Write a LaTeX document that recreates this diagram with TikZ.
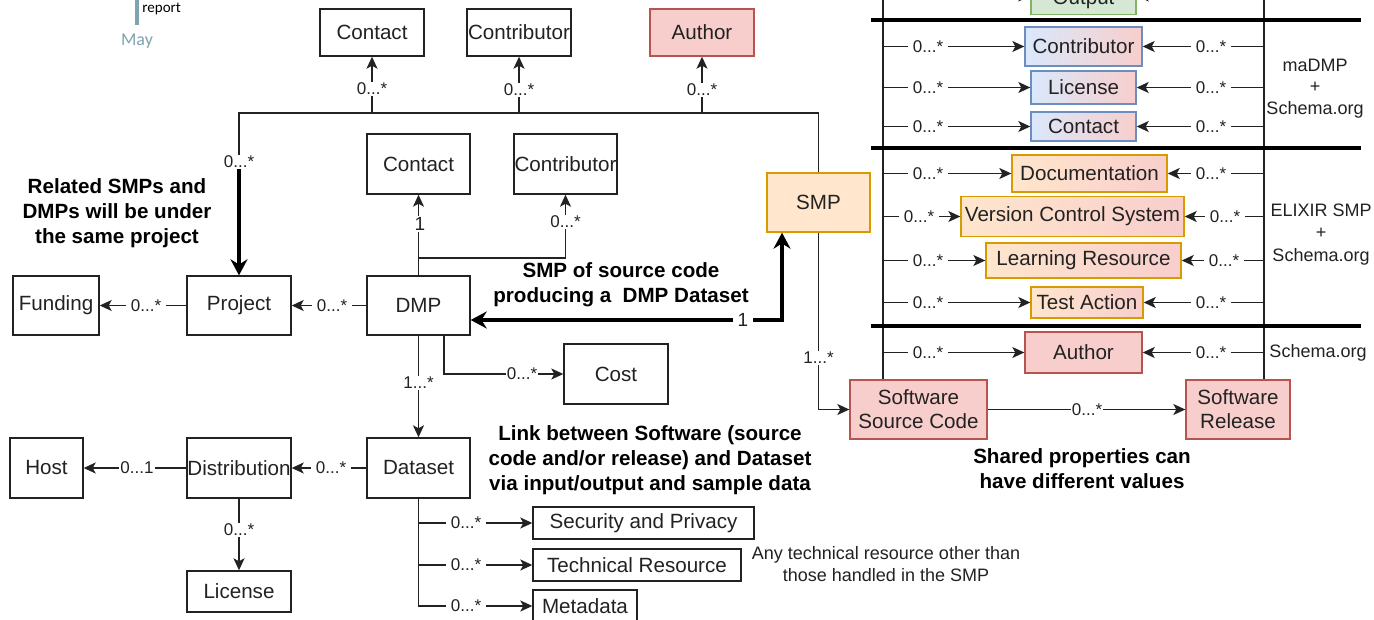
\documentclass[tikz,border=0pt]{standalone}
\usepackage{fontspec}
\setmainfont{Liberation Sans}
\newfontfamily\calib{Carlito}
\usetikzlibrary{arrows.meta}
\definecolor{redF}{HTML}{F8CECC}\definecolor{redS}{HTML}{B85450}
\definecolor{orF}{HTML}{FFE6CC}\definecolor{orS}{HTML}{D79B00}
\definecolor{blF}{HTML}{DAE8FC}\definecolor{blS}{HTML}{6C8EBF}
\definecolor{grF}{HTML}{D5E8D4}\definecolor{grS}{HTML}{82B366}
\definecolor{teal1}{HTML}{7FA3B1}
\definecolor{ink}{HTML}{222222}
\tikzset{
 box/.style={draw=ink, line width=0.7pt, inner sep=0pt, font=\fontsize{10.3}{12}\selectfont, text=ink},
 redbox/.style={box, fill=redF, draw=redS},
 orbox/.style={box, fill=orF, draw=orS},
 grbox/.style={box, fill=grF, draw=grS},
 blgrad/.style={box, left color=blF, right color=redF, draw=blS},
 orgrad/.style={box, left color=orF, right color=redF, draw=orS},
 conn/.style={draw=ink, line width=0.7pt},
 arr/.style={conn, -{Stealth[length=6pt, width=5.5pt, inset=1.5pt]}},
 thickline/.style={draw=black, line width=2pt},
 thickarr/.style={thickline, -{Stealth[length=8pt,width=8.5pt]}},
 lbl/.style={fill=white, inner xsep=2.5pt, inner ysep=0.5pt, font=\fontsize{8.5}{10}\selectfont, text=ink},
 boldtxt/.style={align=center, font=\fontsize{10.3}{12.5}\selectfont\bfseries},
 note/.style={align=center, font=\fontsize{9}{11}\selectfont, text=ink},
 sepline/.style={draw=black, line width=2pt},
}
\newcommand{\bx}[7]{\node[#6, minimum width=#4*0.5pt, minimum height=#5*0.5pt] (#1) at (#2,#3) {#7};}
\newcommand{\rowlinks}[3]{%
 \draw[arr] (lv |- #1.west) -- (#1.west);
 \draw[arr] (rv |- #1.east) -- (#1.east);
 \node[lbl] at (#2,0 |- #1.west) {0...*};
 \node[lbl] at (#3,0 |- #1.east) {0...*};
}
\begin{document}
\begin{tikzpicture}[x=0.5pt,y=-0.5pt]
\path[use as bounding box] (0,0) rectangle (1374,620);
\clip (0,0) rectangle (1374,620);
\fill[white] (0,0) rectangle (1374,620);
% header artifacts
\fill[teal1] (135,-5) rectangle (139,25);
\node[font=\calib\fontsize{7.5}{9}\selectfont, anchor=west, inner sep=0pt] (rep) at (142,9) {report};
\node[font=\calib\fontsize{9}{10}\selectfont, text=teal1, inner sep=0pt] (may) at (137,41) {May};

% left part boxes
\bx{contactT}{372}{32.5}{104}{47}{box}{Contact}
\bx{contribT}{519}{32.5}{104}{47}{box}{Contributor}
\bx{authorT}{702}{32.5}{104}{47}{redbox}{Author}
\bx{contactM}{418.5}{164}{103}{60}{box}{Contact}
\bx{contribM}{565.5}{164}{103}{60}{box}{Contributor}
\bx{smp}{818.5}{202.5}{103}{59}{orbox}{SMP}
\bx{dmp}{418.5}{305.5}{103}{59}{box}{DMP}
\bx{project}{239}{305.5}{104}{59}{box}{Project}
\bx{funding}{56}{305.5}{86}{59}{box}{Funding}
\bx{host}{46.5}{468}{73}{60}{box}{Host}
\bx{distribution}{239}{468}{104}{60}{box}{Distribution}
\bx{dataset}{418.5}{468}{103}{60}{box}{Dataset}
\bx{licenseB}{239}{591.5}{104}{41}{box}{License}
\bx{cost}{616}{374}{104}{60}{box}{Cost}
\bx{secpriv}{643.5}{523}{221}{32}{box}{Security and Privacy}
\bx{techres}{637}{565}{208}{32}{box}{Technical Resource}
\bx{metadata}{585}{606}{104}{32}{box}{Metadata}
\bx{ssc}{918.5}{409.5}{137}{59}{redbox,align=center}{Software\\Source Code}
\bx{srel}{1238}{409.5}{104}{59}{redbox,align=center}{Software\\Release}

% right part boxes
\bx{output}{1083.5}{-1}{105}{31}{grbox}{Output}
\bx{contribR}{1083.5}{46.5}{117}{39}{blgrad}{Contributor}
\bx{licenseR}{1083.5}{87.5}{105}{33}{blgrad}{License}
\bx{contactR}{1083.5}{126.5}{105}{29}{blgrad}{Contact}
\bx{doc}{1089.5}{173.5}{155}{37}{orgrad}{Documentation}
\bx{vcs}{1072.5}{216.5}{223}{40}{orgrad}{Version Control System}
\bx{learn}{1083.5}{260.5}{195}{35}{orgrad}{Learning Resource}
\bx{test}{1087}{302.5}{112}{31}{orgrad}{Test Action}
\bx{authorR}{1083.5}{352.5}{117}{41}{redbox}{Author}

% bus from SMP
\coordinate (busL) at (239,113);
\coordinate (busR) at (818.5,113);
\draw[conn] (smp.north) -- (busR) -- (busL) -- (239,170);
\draw[thickarr] (239,168) -- (project.north);
\node[lbl] at (239,162) {0...*};
\draw[arr] (contactT.south |- busL) -- (contactT.south);
\node[lbl] at (372,89) {0...*};
\draw[arr] (contribT.south |- busL) -- (contribT.south);
\node[lbl] at (519,90) {0...*};
\draw[arr] (authorT.south |- busL) -- (authorT.south);
\node[lbl] at (702,90) {0...*};

% DMP links
\draw[arr] (dmp.north) -- (contactM.south);
\node[lbl, inner xsep=1pt, font=\fontsize{9.5}{10}\selectfont] at (420,224) {1};
\draw[arr] (dmp.north |- 0,258) -| (contribM.south);
\node[lbl] at (565.5,222) {0...*};
\draw[arr] (dmp.west) -- (project.east);
\node[lbl] at (332,305.5) {0...*};
\draw[arr] (project.west) -- (funding.east);
\node[lbl] at (146,305.5) {0...*};
\draw[arr] (dmp.south) -- (dataset.north);
\node[lbl] at (418.5,383) {1...*};
\draw[arr] (444,0 |- dmp.south) |- (cost.west);
\node[lbl, inner xsep=0.5pt] at (522,374) {0...*};
\draw[thickline, {Stealth[length=8pt,width=8.5pt]}-{Stealth[length=8pt,width=8.5pt]}]
  (dmp.east |- 0,320) -- (782,320) -- (782,0 |- smp.south);
\node[lbl, font=\fontsize{9.5}{10}\selectfont] at (743,320) {1};

% Dataset links
\draw[arr] (dataset.west) -- (distribution.east);
\node[lbl] at (331,468) {0...*};
\draw[arr] (distribution.west) -- (host.east);
\node[lbl, inner xsep=0.5pt] at (137,468) {0...1};
\draw[arr] (distribution.south) -- (licenseB.north);
\node[lbl] at (239,530) {0...*};
\draw[arr] (dataset.south) |- (secpriv.west);
\draw[arr] (dataset.south) |- (techres.west);
\draw[arr] (dataset.south) |- (metadata.west);
\node[lbl] at (466,523) {0...*};
\node[lbl] at (466,565) {0...*};
\node[lbl] at (466,606) {0...*};

% SMP to source code
\draw[arr] (smp.south) |- (ssc.west);
\node[lbl] at (818.5,358) {1...*};
\draw[arr] (ssc.east) -- (srel.west);
\node[lbl, inner xsep=0.5pt] at (1087,409.5) {0...*};

% right verticals and separators
\coordinate (lv) at (883,-10);
\coordinate (rv) at (1264,-10);
\draw[conn] (lv) -- (lv |- ssc.north);
\draw[conn] (rv) -- (rv |- srel.north);
\draw[sepline] (871,20.5) -- (1361,20.5);
\draw[sepline] (871,148) -- (1361,148);
\draw[sepline] (871,326) -- (1361,326);

% top (cut-off) Output row
\draw[arr] (lv |- 0,-4) -- (output.west |- 0,-4);
\draw[arr] (rv |- 0,-4) -- (output.east |- 0,-4);

\rowlinks{contribR}{928}{1211}
\rowlinks{licenseR}{928}{1211}
\rowlinks{contactR}{928}{1211}
\rowlinks{doc}{928}{1211}
\rowlinks{vcs}{919}{1225}
\rowlinks{learn}{928}{1224}
\rowlinks{test}{928}{1211}
\rowlinks{authorR}{928}{1211}

% texts
\node[boldtxt] (t1) at (117,213) {Related SMPs and\\DMPs will be under\\the same project};
\node[boldtxt] (t2) at (621,284.5) {SMP of source code\\producing a\ \ DMP Dataset};
\node[boldtxt] (t3) at (650,460) {Link between Software (source\\code and/or release) and Dataset\\via input/output and sample data};
\node[boldtxt] (t4) at (1082,468.5) {Shared properties can\\have different values};
\node[note] (t5) at (886,564) {Any technical resource other than\\those handled in the SMP};
\node[note, font=\fontsize{9}{10.75}\selectfont] (t6) at (1315,88.5) {maDMP\\+\\Schema.org};
\node[note, font=\fontsize{9}{11.25}\selectfont] (t7) at (1321,234.5) {ELIXIR SMP\\+\\Schema.org};
\node[note] (t8) at (1318,353) {Schema.org};
\end{tikzpicture}
\end{document}
